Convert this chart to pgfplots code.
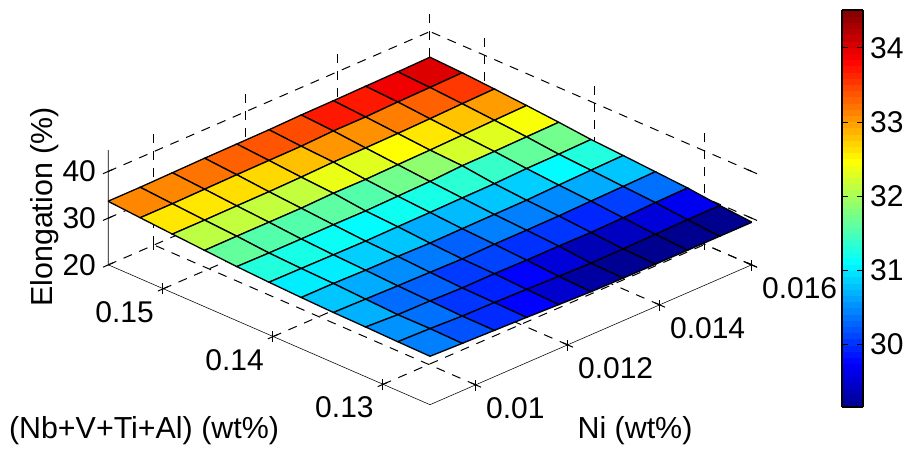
\documentclass[border=0pt]{standalone}
\usepackage{pgfplots}
\usepackage{fontspec}
\setmainfont{Liberation Sans}
\pgfplotsset{compat=1.18}
\begin{document}
\begin{tikzpicture}[x=0.5pt,y=0.5pt]
\useasboundingbox (0,0) rectangle (903,450);
\begin{axis}[
  at={(54pt,22.5pt)},anchor=south west,
  scale only axis,width=322pt,height=197.5pt,
  view={-45}{25.8},
  plot box ratio={1}{1}{0.2807},
  xmin=0.009,xmax=0.016,ymin=0.1257,ymax=0.155,zmin=20,zmax=44.6,
  xtick={0.01,0.012,0.014,0.016},xticklabels={0.01,0.012,0.014,0.016},
  ytick={0.13,0.14,0.15},yticklabels={0.13,0.14,0.15},
  ztick={20,30,40},
  scaled x ticks=false,scaled y ticks=false,
  xtick pos=left,ytick pos=left,ztick pos=left,
  /pgf/number format/assume math mode=true,
  tick label style={font=\fontsize{15}{17}\selectfont,black},
  xticklabel style={anchor=west,xshift=-1pt,yshift=-10.5pt},
  yticklabel style={anchor=east,xshift=1.5pt,yshift=-10.5pt},
  zticklabel style={anchor=east,yshift=-1pt},
  grid=major,
  grid style={black,line width=0.5pt,dash pattern=on 4.5pt off 4pt},
  axis line style={draw=none},
  tick style={black,line width=0.5pt},
  tick align=center,
  major tick length=5.5pt,
  colormap={mjet}{rgb255(0cm)=(0,0,143) rgb255(7cm)=(0,0,255) rgb255(23cm)=(0,255,255) rgb255(39cm)=(255,255,0) rgb255(55cm)=(255,0,0) rgb255(63cm)=(128,0,0)},
  point meta min=29.16,point meta max=34.51,
  colorbar sampled,
  colorbar style={
    at={(parent axis.south west)},anchor=south west,xshift=358.5pt,yshift=-1pt,
    scale only axis,width=10.5pt,height=198.5pt,
    samples=65,
    ytick={30,31,32,33,34},
    yticklabel pos=right,
    tick align=inside,
    major tick length=3pt,
    tick style={black,line width=0.4pt},
    axis line style={black,line width=0.6pt},
    tick label style={font=\fontsize{15}{17}\selectfont,black},
    /pgf/number format/assume math mode=true,
  },
]
\addplot3[surf,shader=flat corner,draw=black,line width=0.65pt,mesh/rows=11,mesh/cols=11,point meta=z] table[x=x,y=y,z=z] {
x y z
0.0090 0.1257 30.43
0.0097 0.1257 30.19
0.0104 0.1257 29.98
0.0111 0.1257 29.76
0.0118 0.1257 29.50
0.0125 0.1257 29.26
0.0132 0.1257 29.18
0.0139 0.1257 29.16
0.0146 0.1257 29.16
0.0153 0.1257 29.16
0.0160 0.1257 29.16
0.0090 0.12863 30.54
0.0097 0.12863 30.35
0.0104 0.12863 30.03
0.0111 0.12863 29.93
0.0118 0.12863 29.76
0.0125 0.12863 29.55
0.0132 0.12863 29.36
0.0139 0.12863 29.42
0.0146 0.12863 29.55
0.0153 0.12863 29.68
0.0160 0.12863 29.74
0.0090 0.13156 30.70
0.0097 0.13156 30.33
0.0104 0.13156 30.27
0.0111 0.13156 30.06
0.0118 0.13156 30.11
0.0125 0.13156 30.01
0.0132 0.13156 30.03
0.0139 0.13156 29.95
0.0146 0.13156 30.09
0.0153 0.13156 30.35
0.0160 0.13156 30.49
0.0090 0.13449 30.81
0.0097 0.13449 30.67
0.0104 0.13449 30.51
0.0111 0.13449 30.41
0.0118 0.13449 30.27
0.0125 0.13449 30.43
0.0132 0.13449 30.43
0.0139 0.13449 30.49
0.0146 0.13449 30.67
0.0153 0.13449 30.81
0.0160 0.13449 30.97
0.0090 0.13742 31.02
0.0097 0.13742 31.02
0.0104 0.13742 30.86
0.0111 0.13742 30.81
0.0118 0.13742 30.67
0.0125 0.13742 30.75
0.0132 0.13742 30.81
0.0139 0.13742 30.86
0.0146 0.13742 31.10
0.0153 0.13742 31.29
0.0160 0.13742 31.45
0.0090 0.14035 31.29
0.0097 0.14035 31.24
0.0104 0.14035 31.16
0.0111 0.14035 31.10
0.0118 0.14035 31.18
0.0125 0.14035 31.24
0.0132 0.14035 31.34
0.0139 0.14035 31.40
0.0146 0.14035 31.64
0.0153 0.14035 31.72
0.0160 0.14035 31.88
0.0090 0.14328 31.64
0.0097 0.14328 31.56
0.0104 0.14328 31.56
0.0111 0.14328 31.61
0.0118 0.14328 31.56
0.0125 0.14328 31.72
0.0132 0.14328 31.88
0.0139 0.14328 32.25
0.0146 0.14328 32.31
0.0153 0.14328 32.44
0.0160 0.14328 32.57
0.0090 0.14621 32.12
0.0097 0.14621 32.15
0.0104 0.14621 32.15
0.0111 0.14621 32.15
0.0118 0.14621 32.36
0.0125 0.14621 32.31
0.0132 0.14621 32.47
0.0139 0.14621 32.60
0.0146 0.14621 32.79
0.0153 0.14621 33.00
0.0160 0.14621 33.16
0.0090 0.14914 32.60
0.0097 0.14914 32.60
0.0104 0.14914 32.65
0.0111 0.14914 32.68
0.0118 0.14914 32.81
0.0125 0.14914 33.03
0.0132 0.14914 33.06
0.0139 0.14914 33.16
0.0146 0.14914 33.32
0.0153 0.14914 33.54
0.0160 0.14914 33.70
0.0090 0.15207 33.11
0.0097 0.15207 33.11
0.0104 0.15207 33.22
0.0111 0.15207 33.32
0.0118 0.15207 33.38
0.0125 0.15207 33.43
0.0132 0.15207 33.70
0.0139 0.15207 33.70
0.0146 0.15207 33.91
0.0153 0.15207 34.02
0.0160 0.15207 34.18
0.0090 0.1550 33.64
0.0097 0.1550 33.64
0.0104 0.1550 33.75
0.0111 0.1550 33.86
0.0118 0.1550 33.91
0.0125 0.1550 33.96
0.0132 0.1550 34.13
0.0139 0.1550 34.18
0.0146 0.1550 34.29
0.0153 0.1550 34.37
0.0160 0.1550 34.51
};
\draw[black,line width=0.55pt] (axis cs:0.009,0.155,44.6) -- (axis cs:0.009,0.155,20) -- (axis cs:0.009,0.1257,20) -- (axis cs:0.016,0.1257,20);
\end{axis}
\node[font=\fontsize{15.2}{17}\selectfont,rotate=90] at (45,243) {Elongation (\%)};
\node[font=\fontsize{15.2}{17}\selectfont] at (635,19) {Ni (wt\%)};
\node[font=\fontsize{15.2}{17}\selectfont] at (144,19) {(Nb+V+Ti+Al) (wt\%)};
\end{tikzpicture}
\end{document}
